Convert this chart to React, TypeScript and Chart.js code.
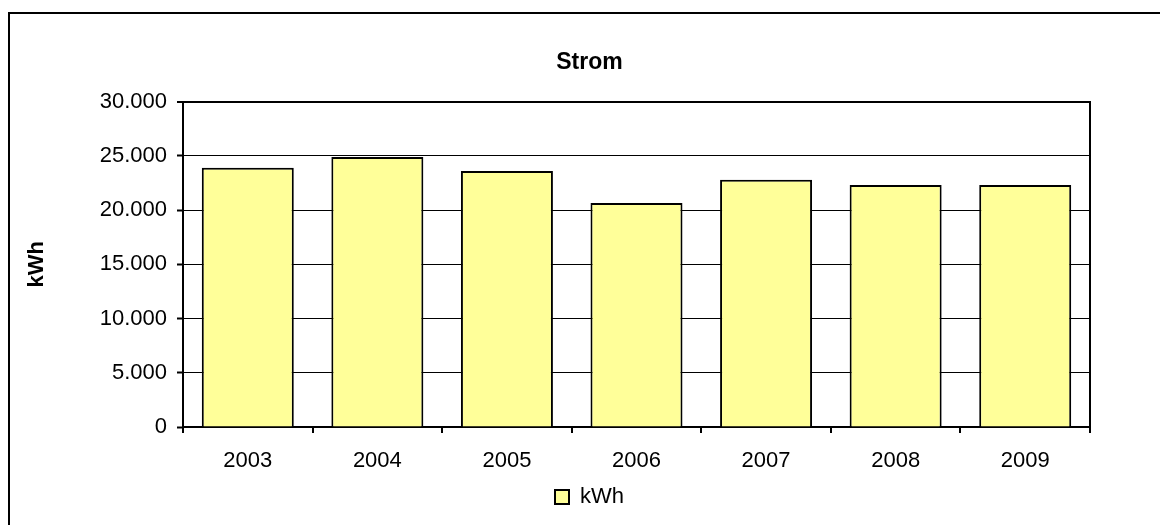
import React, { useEffect, useRef } from 'react';
import { Chart, registerables } from 'chart.js';

Chart.register(...registerables);

const categories = ['2003', '2004', '2005', '2006', '2007', '2008', '2009'];
const kwhValues = [23900, 24900, 23600, 20650, 22800, 22300, 22300];
const seriesLabel = 'kWh';
const chartTitle = 'Strom';
const yAxisTitle = 'kWh';
const yMin = 0;
const yMax = 30000;
const yStep = 5000;

const FONT = "'Liberation Sans', Arial, sans-serif";

const fmt = (v: number | string) =>
  String(v).replace(/\B(?=(\d{3})+(?!\d))/g, '.');

const framePlugin = {
  id: 'outerFrame',
  beforeDraw(chart: any) {
    const ctx = chart.ctx;
    ctx.save();
    ctx.fillStyle = '#ffffff';
    ctx.fillRect(0, 0, chart.width, chart.height);
    ctx.strokeStyle = '#000000';
    ctx.lineWidth = 2;
    ctx.beginPath();
    ctx.moveTo(9, chart.height);
    ctx.lineTo(9, 13);
    ctx.lineTo(chart.width, 13);
    ctx.stroke();
    ctx.restore();
  },
};

export default function App() {
  const ref = useRef<HTMLCanvasElement | null>(null);

  useEffect(() => {
    if (!ref.current) return;
    Chart.defaults.font.family = FONT;
    Chart.defaults.color = '#000';
    const chart = new Chart(ref.current, {
      type: 'bar',
      data: {
        labels: categories,
        datasets: [
          {
            label: seriesLabel,
            data: kwhValues,
            backgroundColor: '#FFFF99',
            borderColor: '#000000',
            borderWidth: 2,
            barPercentage: 0.71,
            categoryPercentage: 1,
          },
        ],
      },
      plugins: [framePlugin],
      options: {
        animation: false,
        responsive: false,
        devicePixelRatio: 1,
        layout: { padding: { left: 19, right: 0, top: 0, bottom: 7 } },
        plugins: {
          tooltip: { enabled: false },
          title: {
            display: true,
            text: chartTitle,
            color: '#000',
            font: { family: FONT, size: 23, weight: 'bold' },
            padding: { top: 49, bottom: 25 },
          },
          legend: {
            display: true,
            position: 'bottom',
            labels: {
              boxWidth: 14,
              boxHeight: 14,
              padding: 10,
              color: '#000',
              font: { family: FONT, size: 22 },
            },
          },
        },
        scales: {
          x: {
            offset: true,
            grid: {
              display: true,
              offset: true,
              drawOnChartArea: false,
              drawTicks: true,
              tickLength: 6,
              color: '#000',
              lineWidth: 2,
            },
            border: { display: true, color: '#000', width: 2 },
            ticks: {
              padding: 15,
              color: '#000',
              font: { family: FONT, size: 22 },
              maxRotation: 0,
            },
            afterFit: (a: any) => {
              a.height = 49;
            },
          },
          y: {
            min: yMin,
            max: yMax,
            ticks: {
              stepSize: yStep,
              padding: 10,
              color: '#000',
              font: { family: FONT, size: 22 },
              callback: (v: any) => fmt(v),
            },
            grid: {
              color: '#000',
              lineWidth: (c: any) => (c.tick && c.tick.value === yMax ? 2 : 1),
              tickLength: 6,
              tickColor: '#000',
              tickWidth: 2,
            },
            border: { display: true, color: '#000', width: 2 },
            title: {
              display: true,
              text: yAxisTitle,
              color: '#000',
              font: { family: FONT, size: 22, weight: 'bold' },
              padding: { top: 5, bottom: 0 },
            },
            afterFit: (a: any) => {
              a.width = 164;
            },
          },
          y2: {
            position: 'right',
            min: 0,
            max: 1,
            ticks: { display: false },
            grid: { drawOnChartArea: false, drawTicks: false },
            border: { display: true, color: '#000', width: 2 },
            afterFit: (a: any) => {
              a.width = 70;
            },
          },
        },
      },
    } as any);
    return () => chart.destroy();
  }, []);

  return (
    <div style={{ position: 'fixed', left: 0, top: 0, width: 1160, height: 525 }}>
      <canvas ref={ref} width={1160} height={525} style={{ width: 1160, height: 525, display: 'block' }} />
    </div>
  );
}
